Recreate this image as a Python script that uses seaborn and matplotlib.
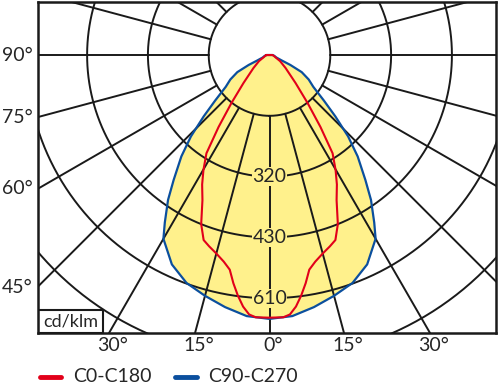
import numpy as np
import matplotlib
matplotlib.use('Agg')  # Non-interactive backend
import matplotlib.pyplot as plt
import seaborn as sns
from matplotlib.lines import Line2D
from matplotlib.patches import Rectangle

# C90-C270 plane (symmetric half), angle from nadir in deg, radius in ring units
c90_angles = [0, 5, 10, 15, 20, 25, 30, 32, 35, 37.5, 41, 44, 47, 50, 54, 58, 62, 64.5, 66, 70, 80, 90]
c90_radius = [4.34, 4.31, 4.21, 4.10, 3.99, 3.80, 3.49, 3.25, 2.91, 2.59, 2.21, 1.86, 1.48, 1.17, 0.89,
              0.76, 0.60, 0.38, 0.22, 0.12, 0.08, 0.05]

# C0-C180 plane (symmetric half)
c0_angles = [0, 3, 4.5, 6, 7.5, 9, 10.5, 12.5, 15, 17.5, 19.6, 22, 24.8, 27.5, 29.9, 32.7, 35.3, 38.4,
             42.9, 51, 60, 70, 80, 90]
c0_radius = [4.32, 4.32, 4.28, 4.16, 3.99, 3.80, 3.59, 3.48, 3.38, 3.30, 3.23, 3.00, 2.63, 2.40, 2.18,
             1.92, 1.45, 1.01, 0.63, 0.34, 0.20, 0.10, 0.07, 0.05]

ring_values = ['320', '430', '610']
ring_index = [2, 3, 4]
side_ticks = [90, 75, 60, 45]
bottom_ticks = [-30, -15, 0, 15, 30]

RED = '#e2001a'
BLUE = '#0b4f9e'
YELLOW = '#fff18c'

sns.set_style("white")
plt.rcParams['font.family'] = ['Lato', 'DejaVu Sans']


def mirror(angles, radius):
    """Mirror half curve to -90..90 and close it at the top"""
    a = np.array(angles, dtype=float)
    r = np.array(radius, dtype=float)
    a_full = np.concatenate([-a[::-1], a[1:], [-a[-1]]])
    r_full = np.concatenate([r[::-1], r[1:], [r[-1]]])
    t = np.deg2rad(a_full)
    return r_full * np.sin(t), r_full * np.cos(t)


fig = plt.figure(figsize=(5, 3.88), dpi=100)
ax = fig.add_axes([0.075, 0.14175, 0.917, 0.8531])
xl, xr = -3.816, 3.725
yt, yb = -0.872, 4.572

# fill under blue curve
bx, by = mirror(c90_angles, c90_radius)
ax.fill(bx, by, color=YELLOW, zorder=1, lw=0)

# grid: rings and rays
t = np.linspace(0, 2 * np.pi, 400)
for k in range(1, 7):
    ax.plot(k * np.sin(t), k * np.cos(t), color='#1a1a1a', lw=1.4, zorder=2)
for phi in range(0, 360, 15):
    p = np.deg2rad(phi)
    ax.plot([np.sin(p), 8 * np.sin(p)], [np.cos(p), 8 * np.cos(p)], color='#1a1a1a', lw=1.4, zorder=2)

# curves
rx, ry = mirror(c0_angles, c0_radius)
sns.lineplot(x=bx, y=by, sort=False, estimator=None, color=BLUE, lw=1.6, ax=ax, zorder=3)
sns.lineplot(x=rx, y=ry, sort=False, estimator=None, color=RED, lw=1.5, ax=ax, zorder=4)
ax.set_xlim(xl, xr)
ax.set_ylim(yb, yt)

# ring labels
for lab, k in zip(ring_values, ring_index):
    ax.text(0, k, lab, ha='center', va='center', fontsize=14, zorder=5,
            bbox=dict(facecolor=YELLOW, edgecolor='none', pad=0.5))

# side labels (where rays meet left edge)
ax.set_xticks([])
ax.set_yticks([])
for a in side_ticks:
    yy = -xl * np.cos(np.deg2rad(a)) / np.sin(np.deg2rad(a))
    ax.annotate(f'{a}°', xy=(xl, yy), xytext=(-5, 0), textcoords='offset pixels',
                ha='right', va='center', fontsize=14, annotation_clip=False)
for a in bottom_ticks:
    xx = yb * np.tan(np.deg2rad(a))
    ax.annotate(f'{abs(a)}°', xy=(xx, yb), xytext=(4, -4), textcoords='offset pixels',
                ha='center', va='top', fontsize=14, annotation_clip=False)

# unit box
ax.add_patch(Rectangle((xl, 4.194), -2.738 - xl, yb - 4.194, facecolor='white',
                       edgecolor='#1a1a1a', lw=1.5, zorder=6))
ax.text((xl - 2.738) / 2, (4.194 + yb) / 2, 'cd/klm', ha='center', va='center', fontsize=13, zorder=7)

for s in ax.spines.values():
    s.set_visible(True)
    s.set_linewidth(1.8)
    s.set_color('#1a1a1a')
    s.set_zorder(8)

# legend
ly = 1 - 377 / 388
fig.add_artist(Line2D([40 / 500, 61 / 500], [ly, ly], color=RED, lw=3.5))
fig.text(73 / 500, ly, 'C0-C180', va='center', ha='left', fontsize=14)
fig.add_artist(Line2D([175 / 500, 197 / 500], [ly, ly], color=BLUE, lw=3.5))
fig.text(208 / 500, ly, 'C90-C270', va='center', ha='left', fontsize=14)

fig.savefig('out.png', dpi=100)
